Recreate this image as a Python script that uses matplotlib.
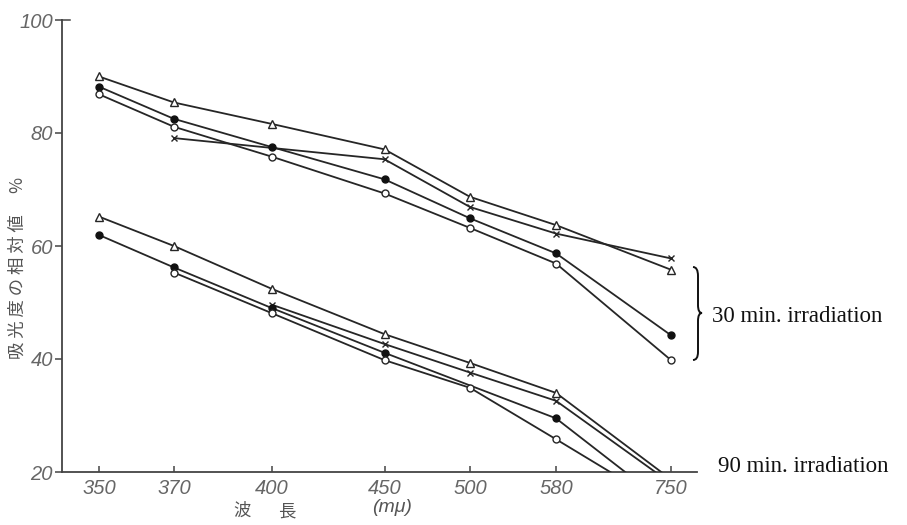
import matplotlib
matplotlib.use('Agg')
import matplotlib.pyplot as plt
from matplotlib.path import Path
from matplotlib.patches import PathPatch

# ---- data -------------------------------------------------------------
wavelengths = ['350', '370', '400', '450', '500', '580', '750']
# hand-drawn (non-uniform) positions of the wavelengths along the x axis
tick_pos = [37, 112, 210, 322.5, 408, 494, 609]
y_ticks = [20, 40, 60, 80, 100]

# 30 min. irradiation
t30_tri = [90.0, 85.4, 81.6, 77.1, 68.7, 63.7, 55.8]
t30_x = [None, 79.1, None, 75.35, 66.9, 62.2, 57.8]
t30_fill = [88.2, 82.5, 77.5, 71.8, 64.9, 58.7, 44.2]
t30_open = [86.85, 81.1, 75.8, 69.3, 63.2, 56.9, 39.8]

# 90 min. irradiation
t90_tri = [65.2, 60.0, 52.4, 44.4, 39.3, 34.0, 18.7]
t90_x = [None, None, 49.6, 42.65, 37.6, 32.6, 18.0]
t90_fill = [61.95, 56.2, 49.0, 41.1, None, 29.5, 13.7]
t90_open = [None, 55.3, 48.1, 39.8, 34.9, 25.8, 13.5]

# ---- figure -----------------------------------------------------------
W, H = 907, 525
fig = plt.figure(figsize=(W / 100, H / 100), dpi=100)
fig.patch.set_facecolor('white')

def fx(px):
    return px / W

def fy(py):
    return 1 - py / H

ax = fig.add_axes([fx(62), fy(472), fx(697) - fx(62), fy(20) - fy(472)])
ax.set_xlim(0, 635)
ax.set_ylim(20, 100)

LINE = '#262626'
styles = {
    'tri': dict(marker='^', mfc='white', mec=LINE, ms=6, mew=1.0),
    'x': dict(marker='x', mfc='none', mec=LINE, ms=5, mew=1.0),
    'fill': dict(marker='o', mfc='#111111', mec='#111111', ms=5, mew=1.0),
    'open': dict(marker='o', mfc='white', mec=LINE, ms=5, mew=1.0),
}

series = [
    (t30_tri, 'tri'), (t30_x, 'x'), (t30_fill, 'fill'), (t30_open, 'open'),
    (t90_tri, 'tri'), (t90_x, 'x'), (t90_fill, 'fill'), (t90_open, 'open'),
]
for vals, kind in series:
    xs = [p for p, v in zip(tick_pos, vals) if v is not None]
    ys = [v for v in vals if v is not None]
    ax.plot(xs, ys, color=LINE, lw=1.3, zorder=3, **styles[kind])

for s in ['top', 'right']:
    ax.spines[s].set_visible(False)
for s in ['left', 'bottom']:
    ax.spines[s].set_color('#444444')
    ax.spines[s].set_linewidth(1.3)

numfont = dict(family=['Liberation Sans', 'DejaVu Sans'], style='italic',
               size=14.5, color='#666666')

ax.set_xticks(tick_pos)
ax.set_xticklabels(wavelengths, fontdict=numfont)
ax.set_yticks(y_ticks)
ax.set_yticklabels([str(v) for v in y_ticks], fontdict=numfont)
ax.tick_params(axis='x', direction='in', length=4, width=1.1, color='#444444', pad=5)
ax.tick_params(axis='y', direction='out', length=5, width=1.1, color='#444444', pad=1.5)
ax.axhline(100, xmin=0, xmax=0.012, color='#444444', lw=1.1, clip_on=False)

# axis titles
cjk = ['Noto Sans CJK JP', 'DejaVu Sans']
fig.text(fx(18), fy(268), '吸 光 度 の 相 対 値\u3000 %', rotation=90,
         ha='center', va='center', family=cjk, size=12.5, color='#555555')
fig.text(fx(242), fy(511), '波', ha='center', va='center', family=cjk,
         size=12.5, color='#555555')
fig.text(fx(287), fy(511), '長', ha='center', va='center', family=cjk,
         size=12.5, color='#555555')
fig.text(fx(392), fy(508), '(mμ)', ha='center', va='center',
         family=['Liberation Sans', 'DejaVu Sans'], style='italic',
         size=14, color='#555555')

serif = ['Liberation Serif', 'DejaVu Serif']
fig.text(fx(712), fy(316), '30 min. irradiation', ha='left', va='center',
         family=serif, size=16.5, color='#111111')
fig.text(fx(718), fy(467), '90 min. irradiation', ha='left', va='center',
         family=serif, size=16.5, color='#111111')

# brace
pts = [(693, 267), (698, 267), (698, 276),
       (698, 305),
       (698, 313), (702, 313),
       (698, 313), (698, 321),
       (698, 352),
       (698, 360), (693, 360)]
codes = [Path.MOVETO, Path.CURVE3, Path.CURVE3,
         Path.LINETO,
         Path.CURVE3, Path.CURVE3,
         Path.CURVE3, Path.CURVE3,
         Path.LINETO,
         Path.CURVE3, Path.CURVE3]
verts = [(fx(x), fy(y)) for x, y in pts]
brace = PathPatch(Path(verts, codes), transform=fig.transFigure,
                  fill=False, lw=1.4, color='#111111')
fig.patches.append(brace)

fig.savefig('out.png', dpi=100, facecolor='white')
